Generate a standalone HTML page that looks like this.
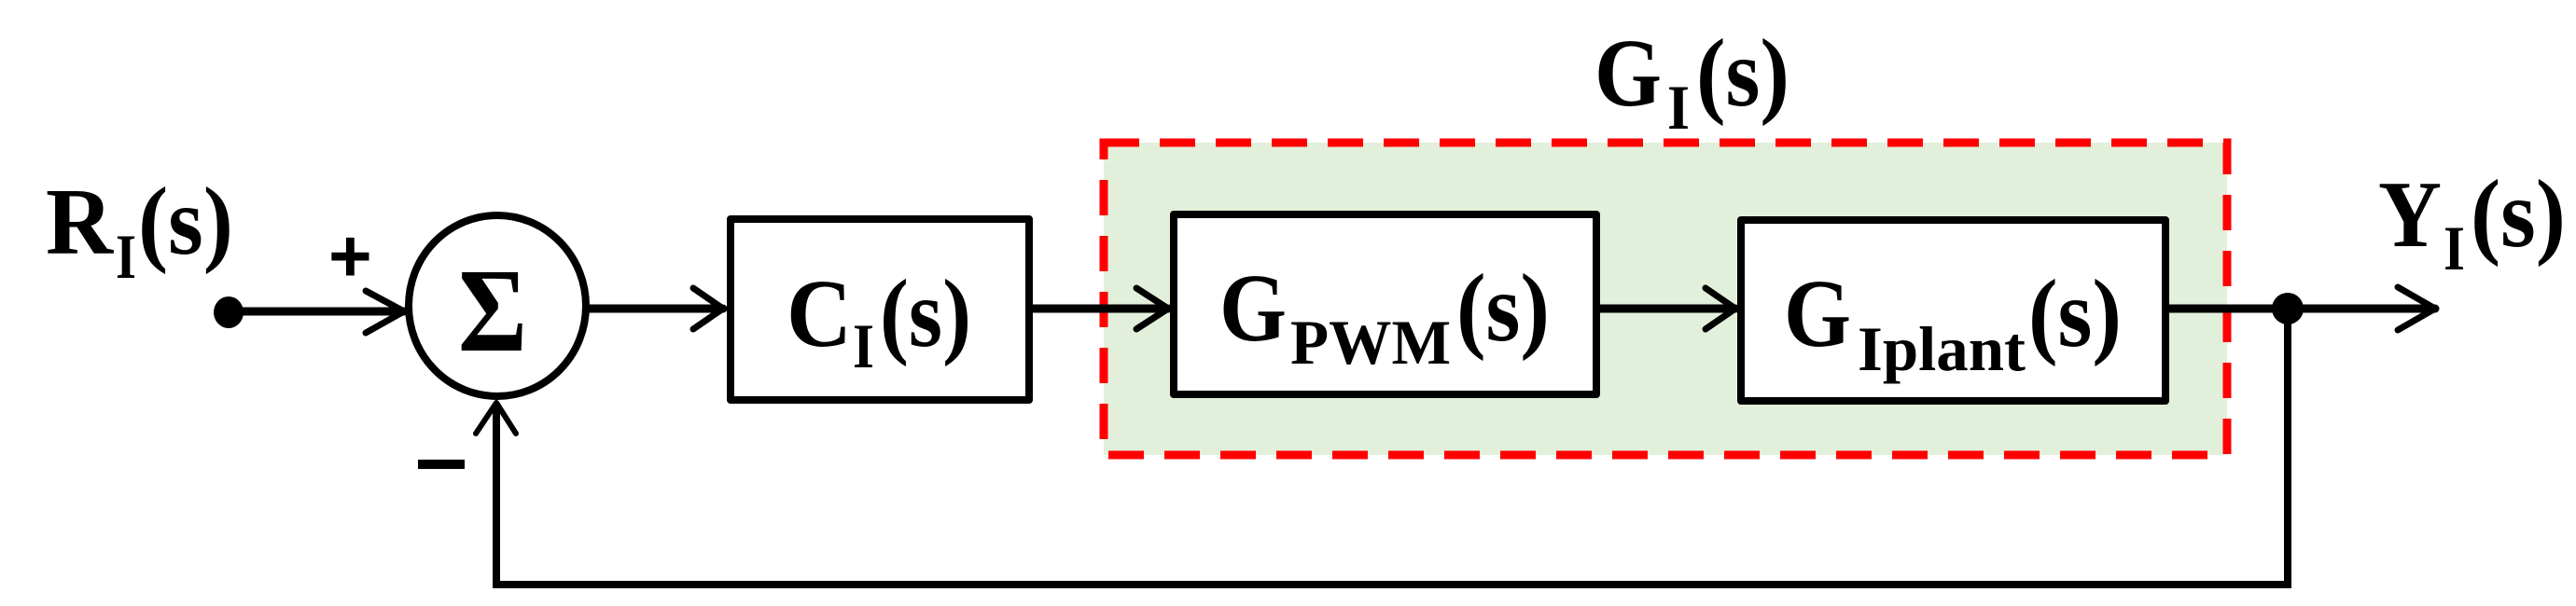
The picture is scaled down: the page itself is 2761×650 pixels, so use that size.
<!DOCTYPE html>
<html><head><meta charset="utf-8"><style>
html,body{margin:0;padding:0;background:#fff;}
svg{display:block;}
text{font-family:"Liberation Serif",serif;font-weight:bold;fill:#000;}
</style></head><body>
<svg width="2761" height="650" viewBox="0 0 2761 650" xmlns="http://www.w3.org/2000/svg">
<!-- green dashed region -->
<rect x="1183" y="153" width="1204" height="335" fill="#e2efda"/>
<rect x="1183" y="153" width="1204" height="335" fill="none" stroke="#ff0000" stroke-width="9" stroke-dasharray="38 22"/>

<g stroke="#000" fill="none" stroke-linecap="round" stroke-linejoin="round">
<!-- input -->
<line x1="243" y1="334" x2="433" y2="334" stroke-width="9"/>
<polyline points="392,312 433,334 392,357" stroke-width="7"/>
<!-- sum ellipse -->
<ellipse cx="533" cy="328" rx="95" ry="97" stroke-width="8" fill="#fff"/>
<!-- sum to C -->
<line x1="631" y1="331" x2="775" y2="331" stroke-width="9"/>
<polyline points="743,309 775,331 743,353" stroke-width="7"/>
<!-- C box -->
<rect x="783" y="235" width="320" height="194" stroke-width="8" fill="#fff"/>
<!-- C to GPWM -->
<line x1="1107" y1="331" x2="1252" y2="331" stroke-width="9"/>
<polyline points="1218,309 1252,331 1218,353" stroke-width="7"/>
<!-- GPWM box -->
<rect x="1258" y="230" width="453" height="193" stroke-width="8" fill="#fff"/>
<!-- GPWM to Gplant -->
<line x1="1715" y1="331" x2="1860" y2="331" stroke-width="9"/>
<polyline points="1828,309 1860,331 1828,353" stroke-width="7"/>
<!-- Gplant box -->
<rect x="1866" y="236" width="455" height="194" stroke-width="8" fill="#fff"/>
<!-- output -->
<line x1="2325" y1="331" x2="2610" y2="331" stroke-width="9"/>
<polyline points="2570,308 2610,331 2570,354" stroke-width="7"/>
<!-- feedback -->
<polyline points="2452,331 2452,627 532,627 532,432" stroke-width="8" stroke-linejoin="miter" stroke-linecap="butt"/>
<polyline points="510,465 532,432 553,465" stroke-width="6"/>
</g>
<ellipse cx="245" cy="335" rx="16" ry="17" fill="#000"/>
<ellipse cx="2452" cy="331" rx="17" ry="17" fill="#000"/>

<!-- signs -->
<text x="352" y="302" font-size="80" style="font-family:'Liberation Sans',sans-serif">+</text>
<rect x="448" y="493" width="50" height="10" fill="#000"/>
<text x="491" y="376" font-size="128" textLength="74" lengthAdjust="spacingAndGlyphs">Σ</text>

<!-- R_I(s) -->
<text x="49" y="272" font-size="102" textLength="72" lengthAdjust="spacingAndGlyphs">R</text>
<text x="124" y="298" font-size="68" textLength="22" lengthAdjust="spacingAndGlyphs">I</text>
<text x="148" y="272" font-size="104" textLength="102" lengthAdjust="spacingAndGlyphs">(s)</text>

<!-- C_I(s) -->
<text x="843" y="371" font-size="104" textLength="70" lengthAdjust="spacingAndGlyphs">C</text>
<text x="914" y="394" font-size="68" textLength="23" lengthAdjust="spacingAndGlyphs">I</text>
<text x="943" y="371" font-size="104" textLength="98" lengthAdjust="spacingAndGlyphs">(s)</text>

<!-- G_PWM(s) -->
<text x="1307" y="365" font-size="104" textLength="72" lengthAdjust="spacingAndGlyphs">G</text>
<text x="1383" y="390" font-size="68" textLength="172" lengthAdjust="spacingAndGlyphs">PWM</text>
<text x="1561" y="365" font-size="104" textLength="100" lengthAdjust="spacingAndGlyphs">(s)</text>

<!-- G_Iplant(s) -->
<text x="1912" y="371" font-size="104" textLength="72" lengthAdjust="spacingAndGlyphs">G</text>
<text x="1991" y="397" font-size="68" textLength="180" lengthAdjust="spacingAndGlyphs">Iplant</text>
<text x="2174" y="371" font-size="104" textLength="100" lengthAdjust="spacingAndGlyphs">(s)</text>

<!-- G_I(s) -->
<text x="1709" y="113" font-size="104" textLength="72" lengthAdjust="spacingAndGlyphs">G</text>
<text x="1787" y="138" font-size="68" textLength="24" lengthAdjust="spacingAndGlyphs">I</text>
<text x="1818" y="113" font-size="104" textLength="100" lengthAdjust="spacingAndGlyphs">(s)</text>

<!-- Y_I(s) -->
<text x="2549" y="264" font-size="102" textLength="68" lengthAdjust="spacingAndGlyphs">Y</text>
<text x="2619" y="289" font-size="68" textLength="23" lengthAdjust="spacingAndGlyphs">I</text>
<text x="2648" y="264" font-size="104" textLength="102" lengthAdjust="spacingAndGlyphs">(s)</text>
</svg>
</body></html>
